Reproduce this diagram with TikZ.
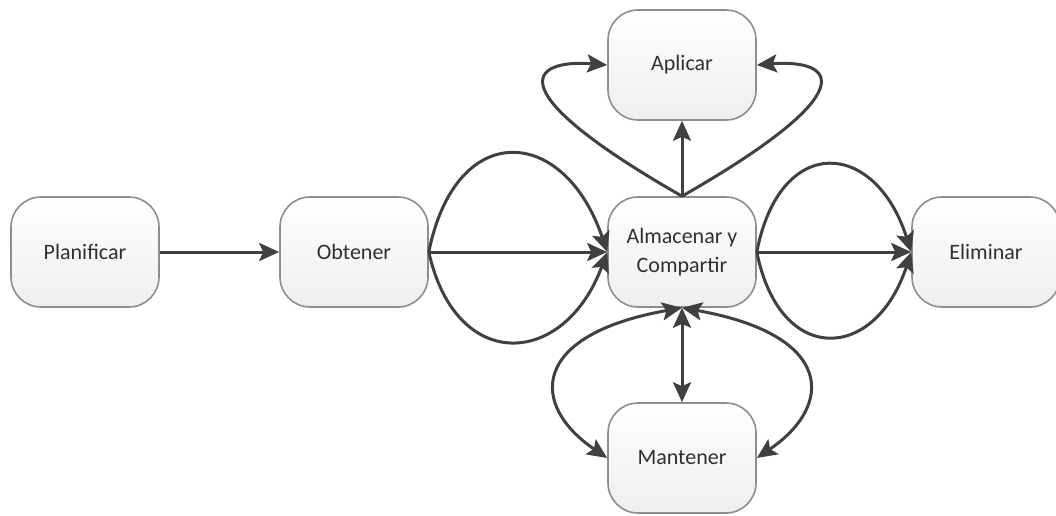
\documentclass[tikz,border=0pt]{standalone}
\usepackage{fontspec}
\setmainfont{Carlito}
\usetikzlibrary{arrows.meta}

\definecolor{edgecol}{HTML}{404040}
\definecolor{boxline}{HTML}{8E8E8E}
\definecolor{txtcol}{HTML}{303030}

\tikzset{
  stage/.style={draw=boxline, line width=1.6pt, rounded corners=30pt,
    minimum width=148pt, minimum height=110pt, inner sep=0pt,
    top color=white, bottom color=gray!13,
    text=txtcol, font=\fontsize{22}{29}\selectfont, align=center},
  tip/.tip={Stealth[length=20pt,width=18pt,inset=4pt]},
  flow/.style={draw=edgecol, line width=3pt, -tip},
  flowboth/.style={draw=edgecol, line width=3pt, tip-tip}
}

\begin{document}
\begin{tikzpicture}[x=1pt,y=-1pt]
\useasboundingbox (0,0) rectangle (1056,515);

% lifecycle stages
\node[stage] (plan) at (85,252)  {Planificar};
\node[stage] (obt)  at (354,252) {Obtener};
\node[stage] (alm)  at (682,252) {Almacenar y\\Compartir};
\node[stage] (apl)  at (682,65)  {Aplicar};
\node[stage] (man)  at (682,458) {Mantener};
\node[stage] (eli)  at (986,252) {Eliminar};

% Planificar -> Obtener
\draw[flow] (plan) -- (obt);

% Obtener -> Almacenar (straight and two arcs)
\draw[flow] (obt) -- (alm);
\draw[flow] (obt.east) .. controls +(27,-134) and +(-43,-127) .. (alm.west);
\draw[flow] (obt.east) .. controls +(27,122) and +(-43,116) .. (alm.west);

% Almacenar -> Eliminar
\draw[flow] (alm) -- (eli);
\draw[flow] (alm.east) .. controls +(23,-119) and +(-36,-113) .. (eli.west);
\draw[flow] (alm.east) .. controls +(23,115) and +(-36,110) .. (eli.west);

% Almacenar -> Aplicar
\draw[flow] (alm) -- (apl);
\draw[flow] (alm.north) .. controls +(-187,-107) and +(-77,-6) .. (apl.west);
\draw[flow] (alm.north) .. controls +(187,-107) and +(77,-6) .. (apl.east);

% Almacenar <-> Mantener
\draw[flowboth] (alm) -- (man);
\draw[flowboth] (alm.south) .. controls +(-152,27) and +(-78,-53) .. (man.west);
\draw[flowboth] (alm.south) .. controls +(152,27) and +(78,-53) .. (man.east);
\end{tikzpicture}
\end{document}
